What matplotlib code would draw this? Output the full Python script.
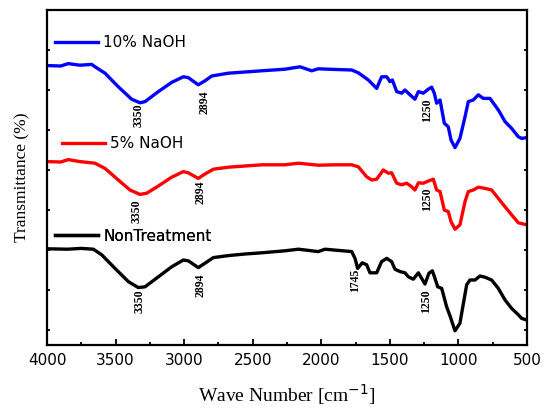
import numpy as np
import matplotlib
matplotlib.use("Agg")
import matplotlib.pyplot as plt
from matplotlib.ticker import MultipleLocator
from matplotlib.lines import Line2D

# FTIR spectra, values (offset curves, arbitrary units)
wn_10 = [3995, 3900, 3845, 3760, 3674, 3650, 3577, 3480, 3383, 3322, 3285, 3188, 3091,
         3006, 2970, 2897, 2848, 2799, 2678, 2556, 2435, 2265, 2155, 2070, 2022, 1949,
         1778, 1730, 1657, 1596, 1560, 1523, 1499, 1482, 1450, 1414, 1390, 1353, 1317,
         1292, 1256, 1220, 1195, 1176, 1159, 1134, 1103, 1074, 1054, 1025, 989, 952,
         928, 892, 855, 819, 770, 709, 660, 612, 563, 539, 502]
t_10 = [6.61, 6.60, 6.66, 6.62, 6.64, 6.58, 6.42, 6.08, 5.77, 5.68, 5.71, 5.96, 6.19,
        6.33, 6.31, 6.13, 6.23, 6.35, 6.42, 6.45, 6.48, 6.52, 6.58, 6.48, 6.53, 6.52,
        6.50, 6.43, 6.25, 6.04, 6.33, 6.33, 6.21, 6.25, 5.96, 5.92, 6.00, 5.88, 5.77,
        5.96, 5.92, 6.02, 6.07, 5.92, 5.67, 5.75, 5.17, 5.08, 4.75, 4.56, 4.79, 5.33,
        5.71, 5.75, 5.88, 5.79, 5.79, 5.50, 5.21, 5.04, 4.83, 4.79, 4.81]

wn_5 = [3995, 3900, 3845, 3760, 3650, 3577, 3480, 3395, 3322, 3273, 3188, 3091, 3006,
        2970, 2897, 2848, 2787, 2678, 2556, 2435, 2265, 2167, 2022, 1900, 1778, 1730,
        1669, 1632, 1596, 1548, 1511, 1487, 1450, 1414, 1377, 1341, 1317, 1292, 1256,
        1215, 1183, 1159, 1134, 1103, 1074, 1054, 1025, 989, 952, 928, 892, 855, 806,
        758, 709, 660, 612, 563, 502]
t_5 = [4.21, 4.20, 4.26, 4.21, 4.17, 4.04, 3.75, 3.50, 3.39, 3.42, 3.60, 3.82, 3.96,
       3.93, 3.79, 3.90, 4.02, 4.07, 4.10, 4.13, 4.13, 4.17, 4.12, 4.13, 4.13, 4.08,
       3.83, 3.75, 3.77, 4.00, 3.92, 3.93, 3.67, 3.63, 3.67, 3.58, 3.50, 3.68, 3.67,
       3.73, 3.77, 3.50, 3.46, 3.00, 2.96, 2.71, 2.52, 2.63, 3.21, 3.46, 3.50, 3.57,
       3.54, 3.50, 3.29, 3.08, 2.88, 2.68, 2.63]

wn_0 = [3995, 3850, 3750, 3662, 3601, 3504, 3407, 3334, 3285, 3188, 3091, 3006, 2970,
        2897, 2848, 2787, 2678, 2556, 2435, 2265, 2167, 2022, 1973, 1778, 1754, 1735,
        1701, 1669, 1645, 1596, 1560, 1523, 1487, 1463, 1426, 1390, 1365, 1329, 1292,
        1268, 1244, 1215, 1190, 1171, 1151, 1122, 1086, 1061, 1025, 989, 940, 916,
        879, 843, 806, 758, 709, 660, 612, 563, 539, 502]
t_0 = [2.03, 2.02, 2.04, 2.02, 1.88, 1.54, 1.21, 1.06, 1.08, 1.33, 1.58, 1.75, 1.73,
       1.56, 1.67, 1.81, 1.86, 1.90, 1.93, 1.98, 2.02, 1.96, 2.02, 1.96, 1.79, 1.54,
       1.68, 1.63, 1.43, 1.43, 1.71, 1.79, 1.71, 1.52, 1.46, 1.43, 1.33, 1.27, 1.43,
       1.29, 1.15, 1.42, 1.48, 1.29, 1.08, 1.04, 0.58, 0.35, -0.02, 0.17, 1.13, 1.25,
       1.25, 1.35, 1.32, 1.25, 1.04, 0.75, 0.54, 0.38, 0.29, 0.25]

# peak labels: (text, wavenumber, y)
peaks_10 = [("3350", 3336, 5.36), ("2894", 2855, 5.70), ("1250", 1229, 5.50)]
peaks_5 = [("3350", 3349, 2.98), ("2894", 2884, 3.44), ("1250", 1227, 3.27)]
peaks_0 = [("3350", 3327, 0.73), ("2894", 2880, 1.11), ("1745", 1752, 1.25),
           ("1250", 1234, 0.71)]

series = [
    ("10% NaOH", wn_10, t_10, "#0000ff", peaks_10, (0.017, 0.902)),
    ("5% NaOH", wn_5, t_5, "#ff0000", peaks_5, (0.031, 0.600)),
    ("NonTreatment", wn_0, t_0, "black", peaks_0, (0.017, 0.325)),
]

fig = plt.figure(figsize=(5.45, 4.09), dpi=100)
ax = fig.add_axes([47 / 545, 1 - 345 / 409, 480 / 545, 335 / 409])

for label, wn, t, color, peaks, anchor in series:
    ax.plot(wn, t, color=color, lw=2.4, solid_joinstyle="round")
    for txt, x, y in peaks:
        ax.text(x, y, txt, rotation=90, ha="center", va="center",
                fontsize=8.5, fontweight="bold", family="Liberation Serif")
    leg = ax.legend([Line2D([], [], color=color, lw=2.4)], [label],
                    loc="center left", bbox_to_anchor=anchor, frameon=False,
                    borderpad=0, borderaxespad=0, handlelength=2.8,
                    handletextpad=0.35, fontsize=11)
    ax.add_artist(leg)

ax.set_xlim(4000, 500)
ax.set_ylim(-0.375, 8)
ax.xaxis.set_major_locator(MultipleLocator(500))
ax.xaxis.set_minor_locator(MultipleLocator(250))
ax.yaxis.set_major_locator(MultipleLocator(1))
ax.tick_params(axis="x", which="major", direction="in", length=4, width=1.3,
               labelsize=11, pad=6, top=False)
ax.tick_params(axis="x", which="minor", direction="in", length=2.5, width=1.3, top=False)
ax.tick_params(axis="y", which="major", direction="in", length=2.5, width=1.3,
               left=True, right=True, labelleft=False)
for sp in ax.spines.values():
    sp.set_linewidth(1.6)

ax.set_xlabel("Wave Number [cm$^{-1}$]", family="Liberation Serif", fontsize=14,
              labelpad=10)
ax.set_ylabel("Transmittance (%)", family="Liberation Serif", fontsize=12.5,
              labelpad=12)

fig.savefig("out.png", dpi=100)
